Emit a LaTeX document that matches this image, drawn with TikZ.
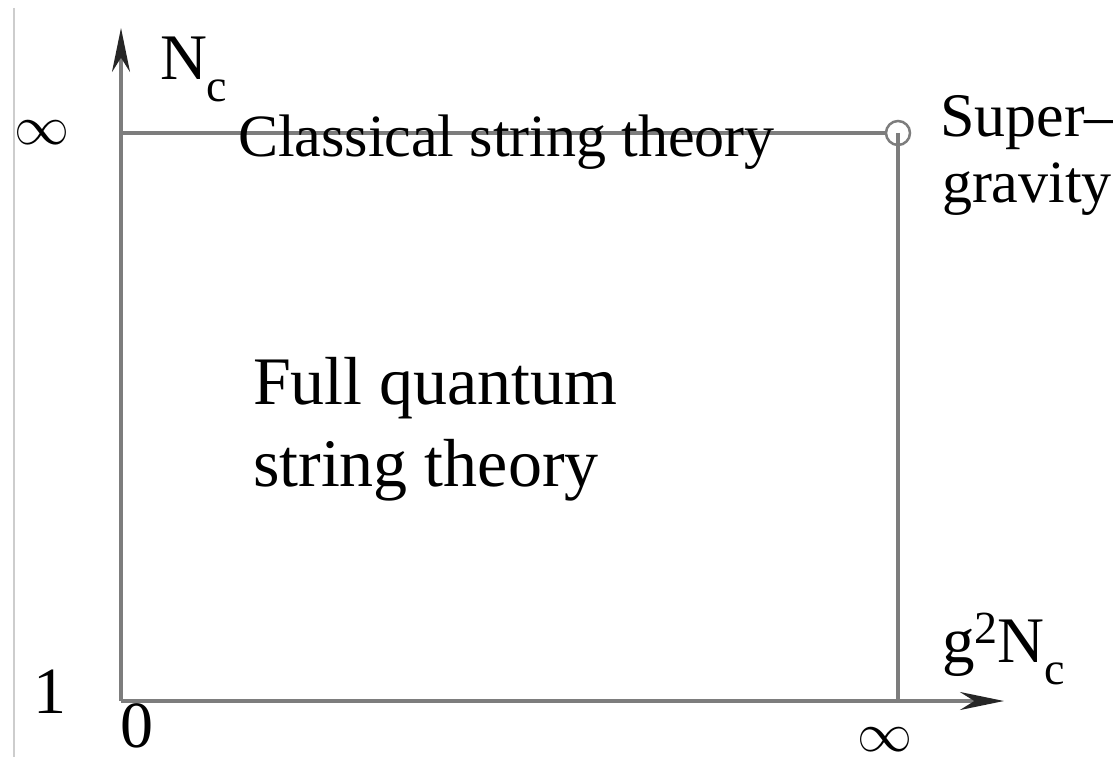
\documentclass[tikz,border=0pt]{standalone}
\usepackage{fontspec}
\setmainfont{Liberation Serif}
\usetikzlibrary{arrows.meta}
\definecolor{axisgray}{RGB}{125,125,125}
\definecolor{framegray}{RGB}{205,205,205}
\newcommand{\mysub}[1]{\raisebox{-22pt}{\fontsize{46}{46}\selectfont #1}}
\newcommand{\mysup}[1]{\raisebox{19pt}{\fontsize{46}{46}\selectfont #1}}
\newcommand{\biginf}{\scalebox{5.5}{$\infty$}}
\tikzset{
  axisline/.style={draw=axisgray, line width=3.5pt},
  axisarrow/.style={axisline, -{Stealth[length=44pt,width=18pt,color=black!85]}},
  lbl/.style={inner sep=0pt, outer sep=0pt, font=\fontsize{60}{67}\selectfont},
  axlbl/.style={inner sep=0pt, outer sep=0pt, font=\fontsize{65}{65}\selectfont},
  suplbl/.style={inner sep=0pt, outer sep=0pt, font=\fontsize{62}{62}\selectfont},
  biglbl/.style={inner sep=0pt, outer sep=0pt, font=\fontsize{68}{82}\selectfont},
  numlbl/.style={inner sep=0pt, outer sep=0pt, font=\fontsize{66}{66}\selectfont},
  inflbl/.style={inner sep=0pt, outer sep=0pt},
  ringnode/.style={circle, draw=axisgray, line width=2.5pt, minimum size=24pt, inner sep=0pt}
}
\begin{document}
\begin{tikzpicture}[x=1pt,y=-1pt]
\useasboundingbox (0,0) rectangle (1113,757);
% left frame edge
\coordinate (ft) at (14,8);
\coordinate (fb) at (14,757);
\draw[draw=framegray, line width=2.5pt] (ft) -- (fb);
% key points
\coordinate (O) at (121,701);
\coordinate (ytip) at (121,28);
\coordinate (xtip) at (1004,701);
\coordinate (TL) at (121,133);
\coordinate (BR) at (898,701);
\node[ringnode] (sg) at (898,133) {};
% axes
\draw[axisarrow] (O) -- (ytip);
\draw[axisarrow] (O) -- (xtip);
% top and right lines
\draw[axisline] (TL) -- (sg.west);
\draw[axisline] (sg.center) -- (BR);
% labels
\node[axlbl, anchor=base west] (nc) at (160,80) {N\mysub{c}};
\node[axlbl, anchor=base west] (gnc) at (942,662) {g\mysup{2}N\mysub{c}};
\node[inflbl] (infy) at (42,133) {\biginf};
\node[inflbl] (infx) at (885,740) {\biginf};
\node[numlbl, anchor=base] (one) at (50,713) {1};
\node[numlbl, anchor=base] (zero) at (137,747) {0};
\node[lbl, anchor=base west] (cst) at (238,157) {Classical string theory};
\node[suplbl, anchor=base west] (sup) at (940,136) {Super–};
\node[lbl, anchor=base west] (grav) at (942,202) {gravity};
\node[biglbl, anchor=base west] (fq) at (253,404) {Full quantum};
\node[biglbl, anchor=base west] (fq2) at (253,486) {string theory};
\end{tikzpicture}
\end{document}
